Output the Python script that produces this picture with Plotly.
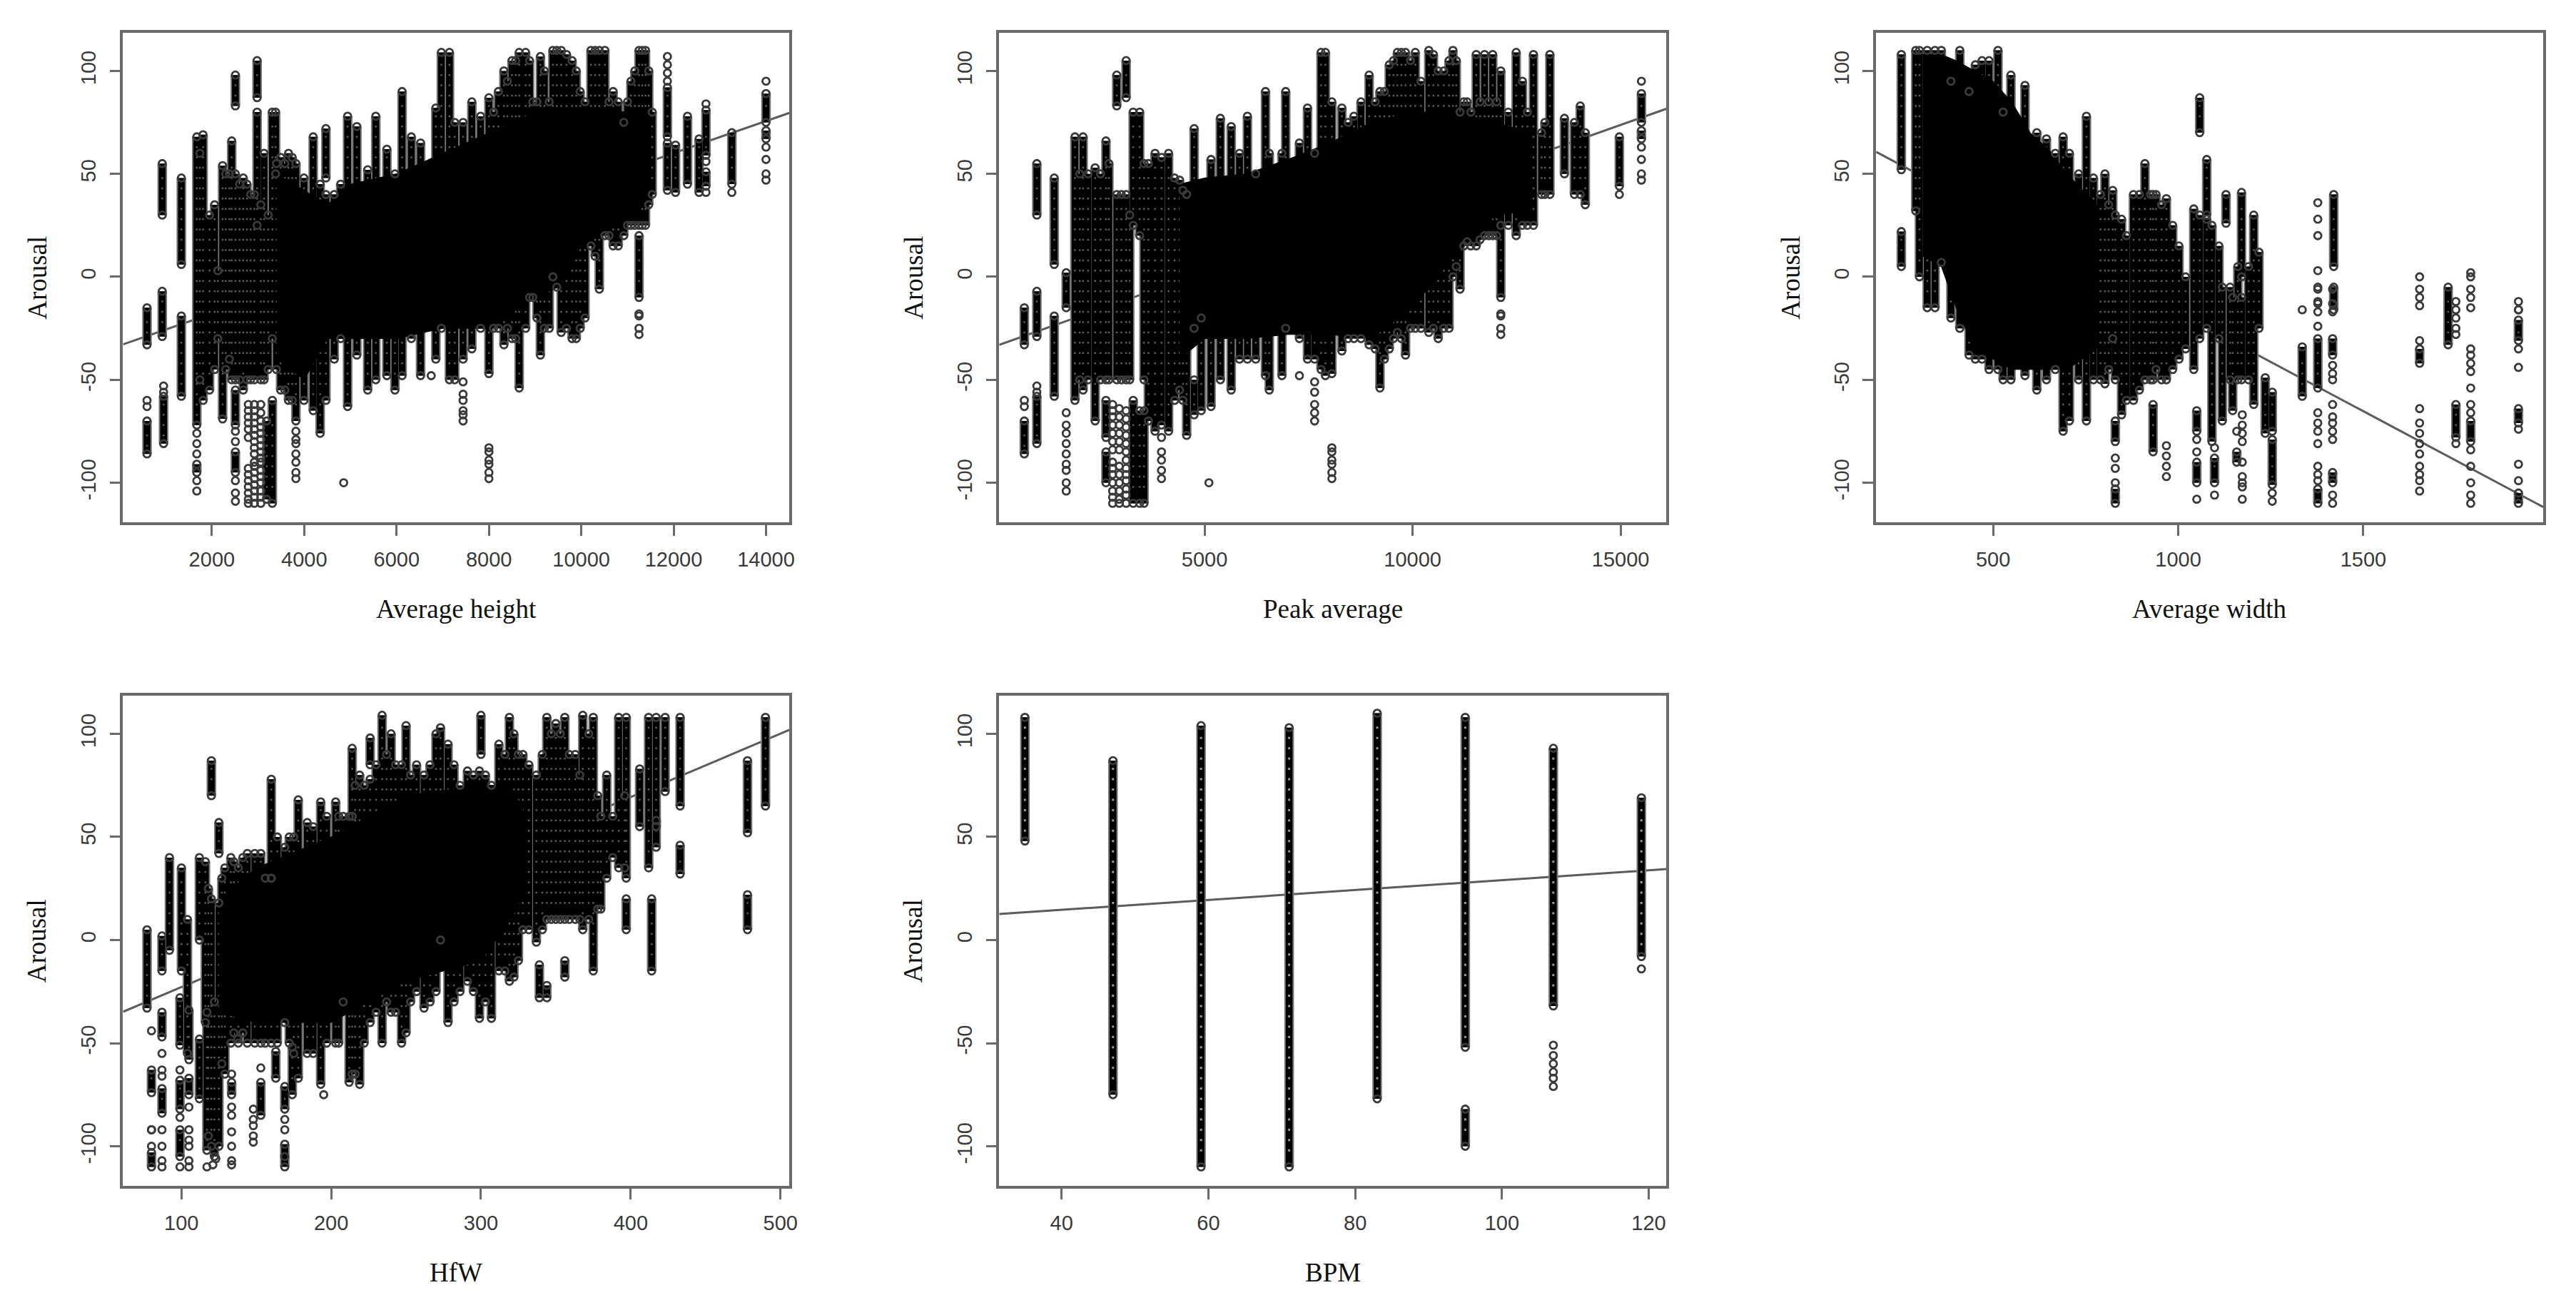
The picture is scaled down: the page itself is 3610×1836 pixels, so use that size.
import plotly.graph_objects as go

# Stripes are columns of overlapping circles: (x value, lowest arousal, highest arousal)
# Columns are separate circles: (x value, [arousal values])
avg_height_stripes = [(596,-33,-15),(596,-86,-70),(926,30,55),(926,-29,-7),(955,-81,-58),(1340,6,48),(1340,-58,-19),
(1674,-72,68),(1674,-95,-91),(1810,-60,69),(1950,-55,30),(2130,-30,3),(2233,-69,54),(2510,-72,-55),(2510,-95,-85),(2510,-50,50),(2510,83,98),
(2430,-50,66),(2680,-55,48),(2840,-50,40),(2980,25,80),(2980,87,105),(3130,-50,60),(3188,-108,-70),
(3310,-110,-60),(3310,-30,80),(3380,50,80),(3490,-55,58),(3660,-60,60),(3820,-70,55),(3995,-60,48),(4195,-65,68),(4345,-76,45),
(4470,48,72),(4470,-60,40),(4650,-40,40),(4790,-30,45),(4940,-63,78),(5140,-38,73),(5375,-55,52),(5550,-50,78),(5790,-48,62),
(5965,-55,50),(6120,-48,90),(6320,-30,68),(6520,-48,65),(6850,-40,82),(6970,-25,109),(7145,-50,109),(7260,-50,75),(7440,-40,75),
(7630,-35,85),(7820,-25,78),(8000,-47,87),(8205,-25,90),(8325,-33,100),(8500,-30,105),(8655,-54,109),(8795,-25,109),(8950,-10,85),
(9115,-38,107),(9305,-25,85),(9385,0,110),(9565,-27,110),(9800,-30,105),(9975,-25,90),(10210,15,110),(10390,-6,110),(10510,20,110),
(10690,15,90),(10920,20,75),(11075,25,95),(11250,-10,20),(11250,25,110),(11390,25,110),(11535,40,80),(11865,42,65),(11865,68,92),(12040,41,64),
(12300,45,78),(12550,41,67),(12700,59,81),(12700,44,51),(13260,45,70),(14000,75,89),(14000,67,71),
(1740,-50,60),(2060,-45,35),(2300,-45,50),(2380,-40,50),(2600,-50,45),(2760,-50,45),(2920,-50,40),(3060,-50,35),(3220,-45,30),(3400,-45,55),(3580,-55,55),(3740,-60,58),
(8100,-25,80),(8400,-25,95),(8580,-30,105),(8880,-10,105),(9040,-20,85),(9200,-25,100),(9470,-5,110),(9680,-25,108),(9890,-30,100),(10080,-20,85),
(10300,10,110),(10600,20,85),(10800,15,85),(11000,25,85),(11160,25,100),(11320,25,110),(11460,35,100)]
avg_height_columns = [(596,[-63,-60]),(955,[-53,-56]),(1674,[-76,-81,-86,-99,-104]),(2510,[-75,-80,-99,-105,-109]),
(2790,[-62,-65,-68,-71,-74,-78,-93,-96,-99,-102,-105,-108,-110]),(2920,[-62,-65,-68,-71,-74,-77,-80,-83,-86,-90,-92,-95,-98,-101,-104,-107,-110]),
(3060,[-62,-66,-70,-73,-76,-79,-82,-85,-88,-90,-94,-97,-100,-104,-107,-110]),
(3820,[-75,-79,-81,-86,-90,-95,-98]),(4855,[-100]),(6750,[-48]),(7440,[-70,-67,-65,-60,-57,-51]),(8000,[-98,-95,-91,-89,-85,-83]),(11250,[-28,-25,-19,-18]),
(11865,[107,103,99,95]),(12700,[84,56,41]),(13260,[41]),(14000,[95,63,57,50,47])]
avg_height_core_x = [3400,4000,4500,5000,6000,7000,8000,9000,9500,10000,11000,11500]
avg_height_core_low = [-40,-50,-30,-30,-30,-25,-25,-10,-5,15,28,37]
avg_height_core_high = [50,42,35,45,50,60,70,80,82,82,80,80]

peak_average_stripes = [(668,-33,-15),(668,-86,-70),(969,30,55),(969,-29,-7),(969,-81,-58),(1387,6,48),(1387,-58,-19),(1675,-15,2),
(1885,-60,68),(2080,-55,68),(2370,-70,53),(2630,-78,-60),(2630,-100,-85),(2630,-50,66),(2890,83,98),(2890,-50,40),
(3115,87,105),(3115,-50,40),(3285,-110,-60),(3285,25,80),(3440,-110,-65),(3440,20,80),(3545,-110,-65),(3545,-50,55),
(3810,-75,60),(3965,-72,58),(4135,-75,60),(4400,-55,47),(4570,-77,40),(4750,-25,72),(4750,-67,-50),(4920,-65,-20),(5155,-63,57),
(5380,-50,77),(5640,-55,73),(5840,-40,60),(6030,-40,78),(6230,-40,50),(6465,-48,90),(6555,-55,60),(6860,-48,60),(6950,-25,90),
(7280,-30,65),(7475,-40,82),(7645,-40,60),(7800,-45,109),(7905,-48,109),(8060,-47,85),(8300,-36,82),(8590,-30,78),(8760,-30,85),
(8955,-33,98),(9215,-54,90),(9440,-35,103),(9635,-27,109),(9830,-38,109),(10065,-25,109),(10390,-27,110),(10615,-30,100),
(10875,-25,105),(10970,0,110),(11140,-6,80),(11310,17,85),(11530,15,108),(11730,20,108),(11925,20,108),(12120,-10,25),(12120,25,100),
(12490,20,109),(12640,25,95),(12905,25,108),(13300,40,108),(13650,50,77),(13890,40,75),(14030,40,83),(14150,35,70),(14970,44,68),(15500,75,89),(15500,67,71),
(2000,-50,50),(2200,-50,50),(2500,-50,50),(2700,-50,55),(3000,-50,40),(3200,-50,30),(3650,-70,55),(4280,-60,48),(4480,-60,42),
(8450,-30,75),(9100,-35,85),(9320,-40,90),(9540,-30,105),(9730,-30,109),(9950,-25,105),(10200,-25,95),(10500,-25,108),(10750,-25,100),
(11050,5,105),(11230,15,85),(11400,15,80),(11620,18,85),(11830,20,85),(12020,20,85),(12300,25,80),(12760,25,80),(13100,40,70),(13180,40,75)]
peak_average_columns = [(668,[-63,-60]),(969,[-53,-56]),(1675,[-104,-100,-94,-91,-86,-81,-76,-72,-66]),
(2790,[-62,-65,-68,-72,-76,-80,-84,-90,-93,-96,-100,-104,-107,-110]),(2950,[-64,-68,-72,-76,-80,-84,-92,-96,-100,-104,-108,-110]),
(3115,[-65,-69,-73,-77,-81,-85,-89,-93,-96,-99,-103,-106,-110]),(3965,[-98,-94,-89,-85,-78]),(5105,[-100]),(7280,[-48]),
(7645,[-70,-66,-62,-56,-51]),(8060,[-98,-95,-91,-89,-85,-83]),(12120,[-28,-25,-19,-18]),(14970,[40]),(15500,[95,63,57,50,47])]
peak_average_core_x = [4400,5000,6000,7000,8000,9000,10000,11000,12000,12800]
peak_average_core_low = [-40,-30,-30,-28,-28,-30,-15,10,30,32]
peak_average_core_high = [45,48,50,57,65,75,80,80,75,70]

avg_width_stripes = [(252,52,108),(252,5,22),(291,32,110),(301,0,110),(322,-15,110),(343,-15,110),(360,7,110),(386,-20,95),(410,-25,110),
(435,-38,90),(452,-40,103),(470,-40,105),(489,-45,105),(513,-45,110),(527,-50,80),(548,-50,98),(586,-48,93),(618,-55,70),(644,-50,67),
(668,-45,60),(689,-75,68),(706,-70,60),(731,-50,50),(752,-70,78),(771,-50,48),(802,-52,50),(823,-30,42),(830,-80,-70),(830,-110,-103),(830,-50,30),
(847,-67,28),(879,-60,40),(910,-50,55),(932,-85,-62),(932,-50,40),(940,-45,40),(968,-50,38),(1002,-40,15),(1042,-45,33),(1050,-75,-65),
(1050,-100,-90),(1058,70,87),(1058,-30,30),(1077,30,57),(1077,-25,28),(1091,-80,25),(1098,-100,-88),(1119,-70,-5),(1129,26,40),(1147,-65,-10),
(1158,-90,-85),(1161,-50,5),(1171,0,41),(1171,-50,-10),(1204,-62,30),(1218,-25,12),(1235,-76,-49),(1254,-75,-56),(1254,-101,-79),
(1335,-58,-34),(1377,-54,-30),(1377,-110,-103),(1417,-38,-30),(1417,-100,-95),(1420,5,40),(1420,-16,-5),(1652,-42,-35),(1729,-33,-5),(1750,-78,-62),
(1790,-80,-70),(1919,-31,-21),(1919,-71,-64),(1919,-110,-105),
(790,-50,40),(812,-45,35),(860,-60,20),(895,-55,40),(925,-50,40),(955,-50,35),(985,-45,25),(1020,-35,0),(1110,-30,15),(1140,-50,-5),(1190,-50,5)]
avg_width_columns = [(1050,[-79,-85,-108]),(1098,[-83,-106]),(1173,[-67,-72,-76,-80,-90,-97,-100,-102,-108]),(1158,[-75]),(968,[-97,-92,-87,-82]),(830,[-100,-93,-88]),
(1254,[-105,-109]),(1335,[-16]),(1377,[-6,-12,-17,-24,-66,-71,-75,-81,-92,-96,-99,20,28,36,3,-5,-13]),
(1417,[-6,-13,-17,-43,-47,-50,-62,-68,-71,-75,-79,-106,-110]),
(1652,[-6,-10,-14,-31,-64,-71,-76,-81,-86,-92,-96,-99,-104,0]),(1750,[-12,-16,-20,-25,-28,-81]),
(1790,[-6,-10,-15,-35,-38,-42,-46,-54,-62,-66,-84,-92,-100,-106,-110,0,2]),(1919,[-12,-16,-35,-44,-74,-91,-99,-16])]
avg_width_core_x = [310,360,400,450,500,550,600,650,700,780]
avg_width_core_low = [10,5,-15,-35,-40,-45,-45,-45,-45,-35]
avg_width_core_high = [108,108,105,100,95,85,70,62,50,35]

hfw_stripes = [(77,-33,5),(80,-74,-63),(80,-110,-103),(87,-47,-35),(87,-84,-72),(87,-15,2),(92,-5,40),(99,-51,-28),(99,-82,-68),
(99,-105,-92),(100,-15,35),(105,-58,-34),(105,-75,-67),(104,-55,10),(112,-77,-48),(112,0,40),(117,-102,-35),(116,-40,38),(120,70,87),(120,-100,20),(122,-105,-30),
(125,42,57),(125,-100,18),(129,-65,35),(133.5,-75,-69),(133,-50,40),(138,-50,35),(144,-50,42),(153,-85,-69),(153,-50,42),(160,30,78),(160,-50,30),
(163,-67,-54),(164,-50,50),(169,-82,-71),(169,-110,-99),(169,-40,45),(174,-75,-52),(172,-50,50),(178,-67,68),(184,-55,57),(193,-70,67),(197,-50,60),(203,-50,67),(208,-30,60),(212,-69,60),
(214,60,93),(214,-65,60),(219,-70,80),(226,-40,78),(226,85,98),(234,-50,109),(240,-35,100),(247,-50,85),(250,-45,104),(257,-25,85),(262,-33,80),
(270,-25,100),(273,0,103),(278,-40,95),(286,-25,75),(291,-20,82),(299,-38,82),(300,90,109),(307,-38,75),(312,-15,95),(319,-20,108),(322,-18,100),
(328,5,90),(337,-1,80),(339,-28,-12),(344,-28,-22),(344,10,108),(350,10,105),(356,-18,-10),(356,10,108),(363,10,90),(368,5,109),(375,-15,108),
(380,15,60),(384,30,80),(392,35,108),(397,5,20),(397,30,108),(406,55,83),(412,35,108),(414,-15,20),(417,45,58),(417,55,108),(423,72,108),(433,32,46),(433,65,108),
(478,52,87),(478,5,22),(490,65,108),
(118,-95,25),(127,-60,30),(135,-45,38),(141,-45,40),(149,-50,42),(156,-50,30),(175,-55,50),(188,-55,55),(205,-50,60),(216,-65,75),(222,-50,75),(230,-35,85),
(237,-30,90),(243,-35,85),(253,-30,80),(266,-30,85),(282,-30,85),(295,-25,80),(303,-30,80),(316,-15,90),(325,-10,90),(332,5,85),(341,5,90),(347,10,100),
(353,10,100),(359,10,90),(366,10,80),(372,10,100),(378,15,70),(388,40,60),(396,35,70)]
hfw_columns = [(80,[-44,-92,-100,-92]),(87,[-55,-63,-66,-92,-100,-107,-110]),(99,[-63,-86,-110]),(105,[-81,-92,-97,-100,-107,-110]),
(117,[-110]),(123,[-106]),(121,[-109]),(133.5,[-65,-81,-85,-93,-100,-107,-109]),(137.6,[-48]),(148,[-82,-87,-90,-95,-98]),(153,[-62]),
(169,[-87,-92,-105]),(195,[-75])]
hfw_core_x = [125,150,200,250,300,320,330]
hfw_core_low = [-35,-40,-40,-20,-10,10,25]
hfw_core_high = [20,35,50,70,75,75,60]

bpm_stripes = [(35,48,108),(47,-75,87),(59,-110,104),(71,-110,103),(83,-77,110),(95,-52,108),(95,-100,-82),(107,-32,93),(119,-8,69)]
bpm_columns = [(107,[-51,-56,-60,-64,-67,-71]),(119,[-14])]
hole_levels = [103,98,93,88,83,78,73,68,63,58,53,48,43,38,33,28,23,18,13,8,3,-2,-7,-12,-17,-22,-27,-32,-37,-42,-47,-52,-57,-62,-67,-72,-77,-82,-87,-92,-97,-102,-107]

panel_names = ["Average height","Peak average","Average width","HfW","BPM"]
panel_xranges = [(77,14507),(65,16099),(184,1986),(61,506),(31.5,122.4)]
panel_xticks = [[2000,4000,6000,8000,10000,12000,14000],[5000,10000,15000],[500,1000,1500],[100,200,300,400,500],[40,60,80,100,120]]
fit_left = [-32.8,-33,60.7,-34.8,12.6]
fit_right = [79.6,81.6,-111.8,101.9,34.4]
arousal_range = (-119.2,118.5)
arousal_ticks = [-100,-50,0,50,100]
y_title = "Arousal"

stripes = [avg_height_stripes,peak_average_stripes,avg_width_stripes,hfw_stripes,bpm_stripes]
columns = [avg_height_columns,peak_average_columns,avg_width_columns,hfw_columns,bpm_columns]
cores = [(avg_height_core_x,avg_height_core_low,avg_height_core_high),(peak_average_core_x,peak_average_core_low,peak_average_core_high),
         (avg_width_core_x,avg_width_core_low,avg_width_core_high),(hfw_core_x,hfw_core_low,hfw_core_high),None]

W,H = 3610,1836
boxes = [(173,1110,46,732),(1405,2343,46,732),(2638,3576,46,732),(173,1110,975,1662),(1405,2343,975,1662)]
fig = go.Figure()
layout = dict(width=W,height=H,margin=dict(l=0,r=0,t=0,b=0),paper_bgcolor="white",plot_bgcolor="white",showlegend=False,annotations=[])
tickfont = dict(family="Liberation Sans",size=29,color="#3a3a3a")
titlefont = dict(family="Liberation Serif",size=37,color="#111")
for i,(x0,x1,y0,y1) in enumerate(boxes):
    s = "" if i==0 else str(i+1)
    ax = dict(xaxis="x"+s,yaxis="y"+s)
    rng = panel_xranges[i]
    fig.add_trace(go.Scatter(x=list(rng),y=[fit_left[i],fit_right[i]],mode="lines",line=dict(color="#5c5c5c",width=3),**ax))
    lx,ly,mx,my,hx,hy = [],[],[],[],[],[]
    for (sx,a,b) in stripes[i]:
        lx += [sx,sx,None]; ly += [a,b,None]
        mx += [sx,sx]; my += [a,b]
        for lv in hole_levels:
            if a+3<lv<b-3:
                hx.append(sx); hy.append(lv)
    for (sx,ys) in columns[i]:
        mx += [sx]*len(ys); my += ys
    fig.add_trace(go.Scatter(x=lx,y=ly,mode="lines",line=dict(color="#777",width=13.5),**ax))
    fig.add_trace(go.Scatter(x=lx,y=ly,mode="lines",line=dict(color="#000",width=9.5),**ax))
    fig.add_trace(go.Scatter(x=hx,y=hy,mode="markers",marker=dict(symbol="square",size=3 if i==4 else 2.5,color="#999" if i==4 else "#5a5a5a"),**ax))
    if cores[i]:
        cx,lo,hi = cores[i]
        fig.add_trace(go.Scatter(x=cx+cx[::-1],y=hi+lo[::-1],mode="lines",fill="toself",fillcolor="#000",line=dict(color="#000",width=1),**ax))
    fig.add_trace(go.Scatter(x=mx,y=my,mode="markers",
        marker=dict(symbol="circle-open",size=10,color="#3a3a3a",line=dict(width=2.8,color="#3a3a3a")),**ax))
    common = dict(showgrid=False,zeroline=False,showline=True,linecolor="#6a6a6a",linewidth=3.5,mirror=True,
                  ticks="outside",ticklen=15,tickwidth=2.5,tickcolor="#6a6a6a",tickfont=tickfont,ticklabelstandoff=8)
    layout["xaxis"+s] = dict(common,domain=[x0/W,x1/W],range=list(rng),anchor="y"+s,tickmode="array",
                             tickvals=panel_xticks[i],ticktext=[str(t) for t in panel_xticks[i]])
    layout["yaxis"+s] = dict(common,domain=[1-y1/H,1-y0/H],range=list(arousal_range),anchor="x"+s,tickmode="array",
                             tickvals=arousal_ticks,ticktext=[str(t) for t in arousal_ticks],tickangle=-90)
    layout["annotations"].append(dict(text=panel_names[i],xref="paper",yref="paper",x=(x0+x1)/2/W,y=1-(y1+121)/H,
                                      showarrow=False,font=titlefont,xanchor="center",yanchor="middle"))
    layout["annotations"].append(dict(text=y_title,xref="paper",yref="paper",x=(x0-121)/W,y=1-(y0+y1)/2/H,textangle=-90,
                                      showarrow=False,font=titlefont,xanchor="center",yanchor="middle"))
fig.update_layout(**layout)
fig.write_html("out.html",config=dict(displayModeBar=False),post_script="document.body.style.margin='0';document.body.style.overflow='hidden';")
